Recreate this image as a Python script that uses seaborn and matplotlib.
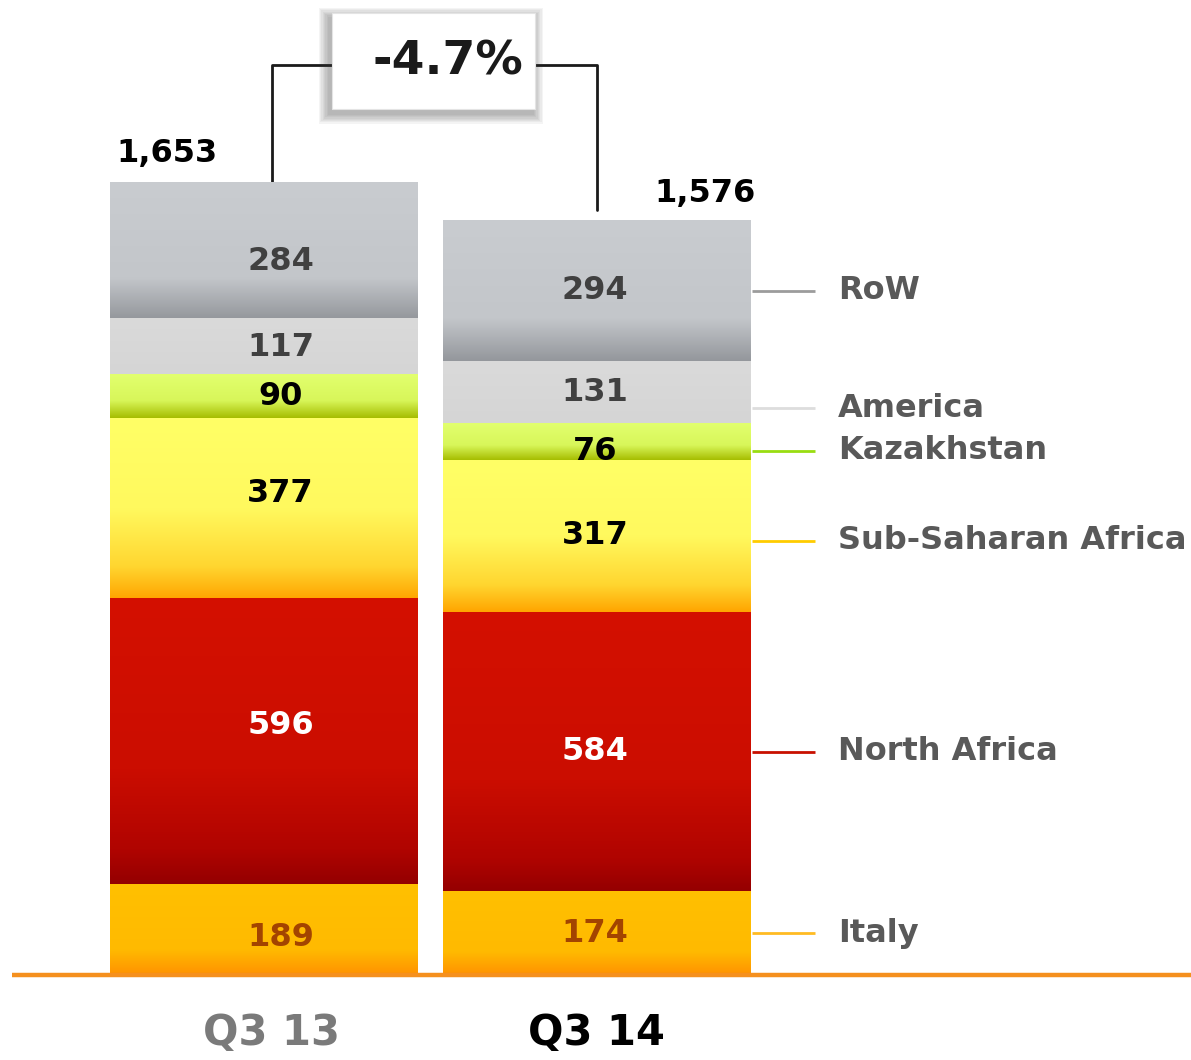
"""
Stacked regional bars, Q3 13 vs Q3 14, with a -4.7% bracket on top.
"""
import matplotlib.pyplot as plt
import numpy as np
import pandas as pd
import seaborn as sns
from matplotlib.colors import LinearSegmentedColormap
from matplotlib.patches import Rectangle

quarters = ["Q3 13", "Q3 14"]
regions = ["Italy", "North Africa", "Sub-Saharan Africa", "Kazakhstan", "America", "RoW"]
q3_13 = [189, 596, 377, 90, 117, 284]
q3_14 = [174, 584, 317, 76, 131, 294]
total_labels = ["1,653", "1,576"]
change_label = "-4.7%"

# top -> bottom colour stops for each segment
gradients = {
    "RoW": [(0, "#c9ccd0"), (0.7, "#c3c6ca"), (1, "#94979c")],
    "America": [(0, "#dadada"), (1, "#d5d5d5")],
    "Kazakhstan": [(0, "#e2ff6e"), (0.6, "#d8f65a"), (1, "#a6bd00")],
    "Sub-Saharan Africa": [(0, "#ffff66"), (0.5, "#fff95e"), (0.82, "#ffd630"), (1, "#ffa500")],
    "North Africa": [(0, "#d41000"), (0.6, "#cb0d00"), (0.88, "#b00400"), (1, "#940000")],
    "Italy": [(0, "#ffc000"), (0.72, "#ffba00"), (1, "#ff9200")],
}
value_colors = {
    "RoW": "#404040", "America": "#404040", "Kazakhstan": "black",
    "Sub-Saharan Africa": "black", "North Africa": "white", "Italy": "#a34400",
}
line_colors = {
    "RoW": "#9c9c9c", "America": "#dddddd", "Kazakhstan": "#99dd11",
    "Sub-Saharan Africa": "#ffcc00", "North Africa": "#c81000", "Italy": "#ffbb22",
}

df = pd.DataFrame({"Q3 13": q3_13, "Q3 14": q3_14}, index=regions)
tops = df.cumsum()
bottoms = tops - df

sns.set_theme(style="white")
plt.rcParams["font.family"] = ["DejaVu Sans"]

W, H = 1191, 1060
PX = 0.479          # pixels per unit
BASE = 85           # baseline, pixels from bottom
X0, STEP = 264, 332.5

fig = plt.figure(figsize=(W / 100, H / 100), dpi=100)
ax = fig.add_axes([0, 0, 1, 1])

# cumulative bars, drawn from the top layer down so each covers the one above
bar_w = 0.926
grad = np.linspace(0, 1, 256).reshape(-1, 1)
for region in reversed(regions):
    n_before = len(ax.patches)
    sns.barplot(x=quarters, y=tops.loc[region].values, color=gradients[region][0][1],
                width=bar_w, ax=ax, linewidth=0)
    cmap = LinearSegmentedColormap.from_list(region, gradients[region])
    for j, patch in enumerate(ax.patches[n_before:]):
        q = quarters[j]
        lo, hi = bottoms.loc[region, q], tops.loc[region, q]
        x = patch.get_x()
        ax.imshow(grad, cmap=cmap, aspect="auto", extent=[x, x + patch.get_width(), lo, hi],
                  origin="upper", zorder=3, interpolation="bicubic")

# segment values (small vertical nudges, in pixels, to sit where the original puts them)
label_dx = [0.05, -0.005]
label_dy = {
    ("RoW", 0): -10, ("North Africa", 0): 16, ("Sub-Saharan Africa", 0): 15,
    ("Italy", 0): -8, ("Kazakhstan", 1): -10,
}
for region in regions:
    for j, q in enumerate(quarters):
        mid = (bottoms.loc[region, q] + tops.loc[region, q]) / 2
        mid += label_dy.get((region, j), 0) / PX
        ax.text(j + label_dx[j], mid, f"{df.loc[region, q]}", ha="center", va="center",
                fontsize=23, fontweight="bold", color=value_colors[region], zorder=5)

# totals
totals = tops.loc["RoW"]
ax.text(-bar_w / 2 + 0.02, totals[quarters[0]] + 62, total_labels[0], ha="left", va="center",
        fontsize=23, fontweight="bold", color="black")
ax.text(1 + bar_w / 2 + 0.015, totals[quarters[1]] + 56, total_labels[1], ha="right", va="center",
        fontsize=23, fontweight="bold", color="black")

# right-hand legend lines
nudge = {"America": -33, "Kazakhstan": -19, "Sub-Saharan Africa": -10}
for region in regions:
    mid = (bottoms.loc[region, "Q3 14"] + tops.loc[region, "Q3 14"]) / 2 + nudge.get(region, 0)
    ax.plot([1.468, 1.657], [mid, mid], color=line_colors[region], lw=2, solid_capstyle="butt")
    ax.text(1.726, mid, region, ha="left", va="center", fontsize=23, fontweight="bold",
            color="#595959")

# bracket with change box
top_y = 1900
ax.plot([0.024, 0.024, 0.21], [totals[quarters[0]], top_y, top_y], color="#1a1a1a", lw=2)
ax.plot([0.81, 1.0, 1.0], [top_y, top_y, totals[quarters[1]] + 21], color="#1a1a1a", lw=2)

bx, by, bw, bh = 0.2045, 1808, 0.6105, 200
# soft shadow: stacked faint rectangles, shifted down-left
for k in range(8, 0, -1):
    gx, gy = k * 0.004, k * 2.6
    ax.add_patch(Rectangle((bx - gx - 0.008, by - gy - 10), bw + 2 * gx, bh + 2 * gy,
                           facecolor="#444444", edgecolor="none", alpha=0.055, zorder=6))
ax.add_patch(Rectangle((bx, by), bw, bh, facecolor="white", edgecolor="#e4e4e4",
                       lw=0.8, zorder=6.5))
ax.text(0.554, 1906, change_label, ha="center", va="center", fontsize=34, fontweight="bold",
        color="#1a1a1a", zorder=7)

# baseline
ax.plot([(12 - X0) / STEP, (W - X0) / STEP], [0, 0], color="#f5901e", lw=3.2, zorder=4,
        solid_capstyle="butt")

# category labels
ax.text(0.024, -121, quarters[0], ha="center", va="center", fontsize=30, fontweight="bold",
        color="#7a7a7a")
ax.text(1.0, -121, quarters[1], ha="center", va="center", fontsize=30, fontweight="bold",
        color="black")

ax.set_xlim(-X0 / STEP, (W - X0) / STEP)
ax.set_ylim(-BASE / PX, (H - BASE) / PX)
ax.axis("off")

fig.savefig("out.png", dpi=100)
